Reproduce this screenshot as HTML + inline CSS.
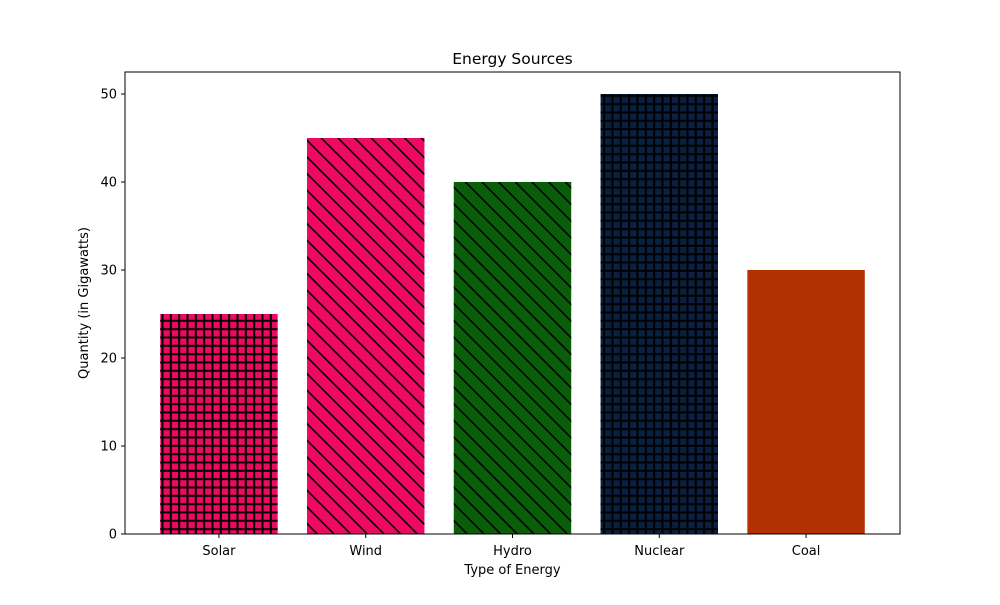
<!DOCTYPE html>
<html><head><meta charset="utf-8"><style>body{margin:0;background:#fff}svg text{font-family:"DejaVu Sans","Liberation Sans",sans-serif;fill:#000}</style></head>
<body>
<svg id="chart" width="1000" height="600" xmlns="http://www.w3.org/2000/svg">
<defs>
<pattern id="grid" patternUnits="userSpaceOnUse" width="8.333" height="8.333" x="0" y="0"><path d="M0 4.17H8.333M4.17 0V8.333" stroke="#000" stroke-width="2"/></pattern>
<pattern id="diag" patternUnits="userSpaceOnUse" width="16.667" height="16.667"><path d="M0 0L16.667 16.667M-4 12.667L4 20.667M12.667 -4L20.667 4" stroke="#000" stroke-width="1.5"/></pattern>
</defs>
<g id="plot"></g>
</svg>
<script>
const categories=["Solar","Wind","Hydro","Nuclear","Coal"];
const values=[25,45,40,50,30];
const colors=["#ee0a63","#ee0a63","#0a5e0a","#0b2040","#b33000"];
const hatches=["grid","diag","diag","grid","none"];
const yTicks=[0,10,20,30,40,50];
const L=125,R=900,T=72,B=534,yMax=52.5,xMin=-0.64,xMax=4.64;
const ys=v=>B-(v/yMax)*(B-T);
const xs=i=>L+(i-xMin)/(xMax-xMin)*(R-L);
const g=document.getElementById('plot');const NS="http://www.w3.org/2000/svg";
function mk(t,a,txt){const e=document.createElementNS(NS,t);for(const k in a)e.setAttribute(k,a[k]);if(txt!=null)e.textContent=txt;g.appendChild(e);return e;}
const bw=(xs(1)-xs(0))*0.8;
categories.forEach((c,i)=>{
 const x=xs(i)-bw/2,y=ys(values[i]),h=B-y;
 const r=mk('rect',{x:x,y:y,width:bw,height:h,fill:colors[i]});
 
 
 if(hatches[i]!=="none"){const o=mk('rect',{x:x,y:y,width:bw,height:h,fill:'url(#'+hatches[i]+')'});
 
 }
 mk('line',{x1:xs(i),x2:xs(i),y1:B,y2:B+4,stroke:'#000','stroke-width':1});
 const t=mk('text',{x:xs(i),y:B+21,'text-anchor':'middle','font-size':13},c);
 
 
});
yTicks.forEach(v=>{
 mk('line',{x1:L-4,x2:L,y1:ys(v),y2:ys(v),stroke:'#000','stroke-width':1});
 const t=mk('text',{x:L-8,y:ys(v)+4.5,'text-anchor':'end','font-size':13},v);
 
 
});
const f=mk('rect',{x:L,y:T,width:R-L,height:B-T,fill:'none',stroke:'#000','stroke-width':1});


const tt=mk('text',{x:512.5,y:64,'text-anchor':'middle','font-size':15.5},'Energy Sources');


const xt=mk('text',{x:512.5,y:574,'text-anchor':'middle','font-size':13},'Type of Energy');


const yt=mk('text',{x:0,y:0,'text-anchor':'middle','font-size':13,transform:'translate(88,303) rotate(-90)'},'Quantity (in Gigawatts)');


</script>
</body></html>
